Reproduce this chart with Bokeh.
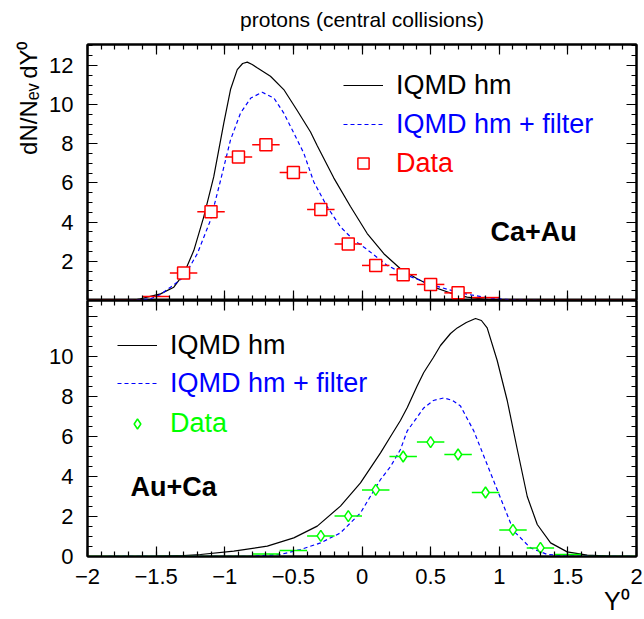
import numpy as np
from bokeh.plotting import figure
from bokeh.models import Range1d, LinearAxis, FixedTicker, Label, Legend, LegendItem, Title
from bokeh.layouts import column
from bokeh.embed import file_html
from bokeh.resources import INLINE

FONT = "Liberation Sans"

# ---------------- data ----------------
# Ca+Au (top panel)
ca_hm_x = [-2.0, -1.8, -1.65, -1.614, -1.55, -1.468, -1.371, -1.298, -1.225, -1.153, -1.08, -1.007,
           -0.958, -0.909, -0.87, -0.836, -0.80, -0.764, -0.667, -0.57, -0.472, -0.375, -0.326,
           -0.205, -0.084, 0.038, 0.159, 0.28, 0.402, 0.523, 0.645, 0.766, 0.912, 1.1, 1.3, 2.0]
ca_hm_y = [0.0, 0.0, 0.03, 0.09, 0.2, 0.34, 0.68, 1.37, 2.56, 4.27, 6.32, 9.06,
           10.77, 11.79, 12.1, 12.17, 12.05, 11.88, 11.45, 10.77, 9.7, 8.6, 7.9,
           6.25, 4.8, 3.42, 2.39, 1.62, 1.11, 0.68, 0.38, 0.17, 0.05, 0.01, 0.0, 0.0]
ca_filt_x = [-2.0, -1.7, -1.60, -1.54, -1.47, -1.395, -1.298, -1.2, -1.104, -1.03, -0.958, -0.885,
             -0.81, -0.727, -0.642, -0.57, -0.497, -0.424, -0.351, -0.254, -0.157, -0.06, 0.038,
             0.184, 0.33, 0.523, 0.718, 0.912, 1.1, 1.3, 2.0]
ca_filt_y = [0.0, 0.0, 0.04, 0.09, 0.3, 0.68, 1.2, 2.39, 4.1, 6.15, 8.2, 9.57,
             10.34, 10.63, 10.34, 9.57, 8.55, 7.52, 6.05, 4.79, 3.76, 3.08, 2.6,
             1.79, 1.28, 0.77, 0.38, 0.14, 0.03, 0.0, 0.0]
ca_data_x = [-1.3, -1.1, -0.9, -0.7, -0.5, -0.3, -0.1, 0.1, 0.3, 0.5, 0.7]
ca_data_y = [1.40, 4.53, 7.32, 7.95, 6.53, 4.65, 2.89, 1.79, 1.32, 0.82, 0.39]
ca_low_x = [-1.9, -1.7, -1.5, 0.9, 1.1, 1.3, 1.5, 1.7, 1.9]
ca_low_y = [0.0, 0.0, 0.2, 0.15, 0.0, 0.0, 0.0, 0.0, 0.0]

# Au+Ca (bottom panel)
au_hm_x = [-2.0, -1.5, -1.3, -1.177, -0.934, -0.69, -0.497, -0.326, -0.157, -0.011, 0.135, 0.208,
           0.28, 0.33, 0.40, 0.45, 0.52, 0.572, 0.645, 0.694, 0.76, 0.827, 0.87, 0.912, 0.985,
           1.058, 1.13, 1.204, 1.277, 1.374, 1.495, 1.641, 1.8, 2.0]
au_hm_y = [0.0, 0.01, 0.05, 0.1, 0.27, 0.52, 0.93, 1.52, 2.52, 3.68, 5.18, 6.0,
           6.8, 7.45, 8.5, 9.2, 9.95, 10.55, 11.15, 11.43, 11.7, 11.9, 11.8, 11.43, 9.8,
           7.8, 5.4, 3.0, 1.6, 0.68, 0.23, 0.07, 0.02, 0.0]
au_filt_x = [-2.0, -0.8, -0.594, -0.448, -0.302, -0.157, -0.011, 0.135, 0.208, 0.28, 0.329, 0.45,
             0.52, 0.596, 0.66, 0.718, 0.815, 0.912, 1.009, 1.106, 1.228, 1.35, 1.5, 2.0]
au_filt_y = [0.0, 0.01, 0.1, 0.35, 0.68, 1.18, 2.18, 3.85, 4.5, 5.35, 6.27, 7.43,
             7.8, 7.93, 7.8, 7.52, 6.27, 4.6, 2.93, 1.27, 0.43, 0.1, 0.02, 0.0]
au_data_x = [-0.3, -0.1, 0.1, 0.3, 0.5, 0.7, 0.9, 1.1, 1.3]
au_data_y = [1.03, 2.02, 3.33, 5.0, 5.72, 5.1, 3.2, 1.33, 0.43]
au_low_x = [-1.9, -1.7, -1.5, -1.3, -1.1, -0.9, -0.7, -0.5, 1.5, 1.7, 1.9]
au_low_y = [0.0, 0.0, 0.0, 0.0, 0.0, 0.0, 0.13, 0.3, 0.1, 0.0, 0.0]

BIN_HALF = 0.1

# ticks
x_major = [-2.0, -1.5, -1.0, -0.5, 0.0, 0.5, 1.0, 1.5, 2.0]
x_labels = ["\u22122", "\u22121.5", "\u22121", "\u22120.5", "0", "0.5", "1", "1.5", "2"]
x_minor = [round(-2.0 + 0.1 * i, 1) for i in range(41)]
y_major = [0, 2, 4, 6, 8, 10, 12]
y_minor = [0.5 * i for i in range(27)]
top_y_labels = ["", "2", "4", "6", "8", "10", "12"]
bot_y_labels = ["0", "2", "4", "6", "8", "10", ""]

TITLE = "protons (central collisions)"
Y_TITLE = "dN/N\u2091\u1d65\u2009dY\u2070"
X_TITLE = "Y\u2070\u00a0"

BLACK = "#000000"
BLUE = "#0000ff"
RED = "#ff0000"
GREEN = "#00ff00"


def make_axis(ticks, minor, labels=None, standoff=12, **kw):
    ax = LinearAxis(ticker=FixedTicker(ticks=ticks, minor_ticks=minor), **kw)
    ax.major_tick_in = 10
    ax.major_tick_out = 0
    ax.minor_tick_in = 5
    ax.minor_tick_out = 0
    ax.axis_line_width = 2
    ax.major_tick_line_width = 1.2
    ax.minor_tick_line_width = 1.2
    ax.axis_line_color = BLACK
    if labels is None:
        ax.major_label_text_font_size = "0px"
        ax.major_label_standoff = 0
        ax.major_label_text_alpha = 0
    else:
        ax.major_label_overrides = {float(t): l for t, l in zip(ticks, labels)}
        ax.major_label_text_font = FONT
        ax.major_label_text_font_size = "22px"
        ax.major_label_text_color = BLACK
        ax.major_label_standoff = standoff
    return ax


def base_fig(height, ymax, top_border, bottom_border):
    p = figure(width=644, height=height, x_range=Range1d(-2, 2), y_range=Range1d(0, ymax),
               output_backend="svg", toolbar_location=None,
               x_axis_location=None, y_axis_location=None,
               min_border_left=87, min_border_right=8,
               min_border_top=top_border, min_border_bottom=bottom_border)
    p.grid.visible = False
    p.outline_line_color = BLACK
    p.outline_line_width = 2
    p.background_fill_color = "white"
    p.border_fill_color = "white"
    return p


def draw_panel(p, hm_x, hm_y, f_x, f_y, dx, dy, lx, ly, color, marker, msize):
    r_hm = p.line(hm_x, hm_y, line_color=BLACK, line_width=1.2)
    r_f = p.line(f_x, f_y, line_color=BLUE, line_width=1.2, line_dash="4 3")
    lx_a = np.array(lx)
    p.segment(x0=lx_a - BIN_HALF, y0=ly, x1=lx_a + BIN_HALF, y1=ly, line_color=color, line_width=1.5)
    dx_a = np.array(dx)
    p.segment(x0=dx_a - BIN_HALF, y0=dy, x1=dx_a + BIN_HALF, y1=dy, line_color=color, line_width=1.5)
    r_d = p.scatter(dx, dy, marker=marker, size=msize, line_color=color, fill_color="white",
                    line_width=1.5)
    return r_hm, r_f, r_d


def add_legend(p, label, rend, color, loc, glyph_h=40):
    leg = Legend(items=[LegendItem(label=label, renderers=[rend])], location=loc,
                 padding=0, margin=0, spacing=0, glyph_width=40, glyph_height=glyph_h,
                 label_height=40, label_standoff=13,
                 label_text_font=FONT, label_text_font_size="27px", label_text_color=color,
                 border_line_alpha=0, background_fill_alpha=0)
    p.add_layout(leg)


# ---------------- top panel ----------------
top = base_fig(300, 13.07, 44, 0)
top.add_layout(make_axis(y_major, y_minor, top_y_labels, standoff=14), "left")
top.add_layout(make_axis(y_major, y_minor), "right")
xa = make_axis(x_major, x_minor)
xa.axis_label = TITLE
xa.axis_label_text_font = FONT
xa.axis_label_text_font_size = "21px"
xa.axis_label_text_font_style = "normal"
xa.axis_label_text_color = BLACK
xa.axis_label_standoff = 14
top.add_layout(xa, "above")
top.add_layout(make_axis(x_major, x_minor), "below")
top.add_layout(Title(text=Y_TITLE, align="right", text_font=FONT, text_font_size="24px",
                     text_font_style="normal", text_color=BLACK, standoff=10, offset=-3), "left")
t_hm, t_f, t_d = draw_panel(top, ca_hm_x, ca_hm_y, ca_filt_x, ca_filt_y, ca_data_x, ca_data_y,
                            ca_low_x, ca_low_y, RED, "square", 12)
add_legend(top, "IQMD hm", t_hm, BLACK, (256, 195))
add_legend(top, "IQMD hm + filter", t_f, BLUE, (256, 156))
add_legend(top, "Data", t_d, RED, (256, 117), glyph_h=28)
top.add_layout(Label(x=0.936, y=2.73, text="Ca+Au", text_font=FONT, text_font_size="27px",
                     text_font_style="bold", text_color=BLACK))

# ---------------- bottom panel ----------------
bot = base_fig(319, 12.8, 0, 63)
bot.add_layout(make_axis(y_major, y_minor, bot_y_labels, standoff=14), "left")
bot.add_layout(make_axis(y_major, y_minor), "right")
bot.add_layout(make_axis(x_major, x_minor), "above")
bot.add_layout(make_axis(x_major, x_minor, x_labels, standoff=12), "below")
bot.add_layout(Title(text=X_TITLE, align="right", text_font=FONT, text_font_size="25px",
                     text_font_style="normal", text_color=BLACK, standoff=-4), "below")
b_hm, b_f, b_d = draw_panel(bot, au_hm_x, au_hm_y, au_filt_x, au_filt_y, au_data_x, au_data_y,
                            au_low_x, au_low_y, GREEN, "diamond", 11)
add_legend(bot, "IQMD hm", b_hm, BLACK, (30, 191))
add_legend(bot, "IQMD hm + filter", b_f, BLUE, (30, 153))
add_legend(bot, "Data", b_d, GREEN, (30, 113), glyph_h=25)
bot.add_layout(Label(x=-1.687, y=2.71, text="Au+Ca", text_font=FONT, text_font_size="27px",
                     text_font_style="bold", text_color=BLACK))

layout = column(top, bot, spacing=0)
open("out.html", "w").write(file_html(layout, INLINE))
